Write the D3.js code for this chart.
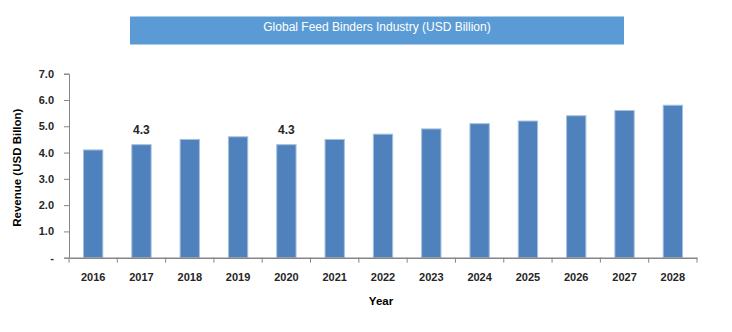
<!DOCTYPE html>
<html><head><meta charset="utf-8">
<script src="https://cdn.jsdelivr.net/npm/d3@7"></script>
<style>body{margin:0;background:#fff;}svg{display:block;}</style>
</head><body><svg id="c" width="732" height="332"></svg>
<script>
const years = ["2016","2017","2018","2019","2020","2021","2022","2023","2024","2025","2026","2027","2028"];
const revenue = [4.1,4.3,4.5,4.6,4.3,4.5,4.7,4.9,5.1,5.2,5.4,5.6,5.8];
const labeledYears = ["2017","2020"];
const yTicks = [0,1,2,3,4,5,6,7];
const title = "Global Feed Binders Industry (USD Billion)";
const yTitle = "Revenue (USD Billon)";
const xTitle = "Year";

const svg = d3.select("#c");
const font = "'Liberation Sans', Arial, sans-serif";
const m = {left:69, right:35, top:73.7, bottom:74.3};
const W = 732, H = 332;
const x = d3.scaleBand().domain(years).range([m.left, W-m.right]).paddingInner(0.6).paddingOuter(0.3);
const y = d3.scaleLinear().domain([0,7]).range([H-m.bottom, m.top]);

// title box
svg.append("rect").attr("x",130).attr("y",16.5).attr("width",494).attr("height",28).attr("fill","#5B9BD5");
svg.append("text").attr("x",377).attr("y",28).attr("text-anchor","middle").attr("dominant-baseline","middle")
  .attr("fill","#fff").attr("font-family",font).attr("font-size",12).text(title);

// bars
svg.append("g").selectAll("rect").data(years).join("rect")
  .attr("x",d=>x(d)).attr("width",x.bandwidth())
  .attr("y",(d,i)=>y(revenue[i])).attr("height",(d,i)=>y(0)-y(revenue[i]))
  .attr("fill","#4F81BD").attr("stroke","#A7C0DE").attr("stroke-width",1);

// data labels
svg.append("g").selectAll("text").data(years.filter(d=>labeledYears.includes(d))).join("text")
  .attr("x",d=>x(d)+x.bandwidth()/2).attr("y",d=>y(revenue[years.indexOf(d)])-11)
  .attr("text-anchor","middle").attr("font-family",font).attr("font-size",12).attr("font-weight","bold")
  .attr("fill","#262626").text(d=>revenue[years.indexOf(d)].toFixed(1));

// y axis
const yAxis = svg.append("g").attr("transform",`translate(${m.left},0)`)
  .call(d3.axisLeft(y).tickValues(yTicks).tickSize(5).tickPadding(10).tickFormat(d=>d===0?"-":d.toFixed(1)));
yAxis.select(".domain").attr("stroke","#868686");
yAxis.selectAll(".tick line").attr("stroke","#868686");
yAxis.selectAll("text").attr("font-family",font).attr("font-size",11).attr("font-weight","bold").attr("fill","#262626");

// x axis
const xAxis = svg.append("g").attr("transform",`translate(0,${y(0)})`)
  .call(d3.axisBottom(x).tickSize(0).tickPadding(16));
xAxis.select(".domain").attr("stroke","#868686").attr("stroke-width",1.5);
xAxis.selectAll("text").attr("font-family",font).attr("font-size",11).attr("font-weight","bold").attr("fill","#262626");
// x tick marks at band boundaries
const step = x.step();
const bounds = d3.range(years.length+1).map(i=>x.range()[0]+i*step);
xAxis.append("g").selectAll("line").data(bounds).join("line")
  .attr("x1",d=>d).attr("x2",d=>d).attr("y1",0).attr("y2",5).attr("stroke","#868686");

// axis titles
svg.append("text").attr("transform",`translate(21,${(m.top+H-m.bottom)/2+2}) rotate(-90)`)
  .attr("text-anchor","middle").attr("font-family",font).attr("font-size",11.5).attr("font-weight","bold")
  .attr("fill","#000").text(yTitle);
svg.append("text").attr("x",381).attr("y",305).attr("text-anchor","middle")
  .attr("font-family",font).attr("font-size",11.5).attr("font-weight","bold").attr("fill","#000").text(xTitle);
</script></body></html>
